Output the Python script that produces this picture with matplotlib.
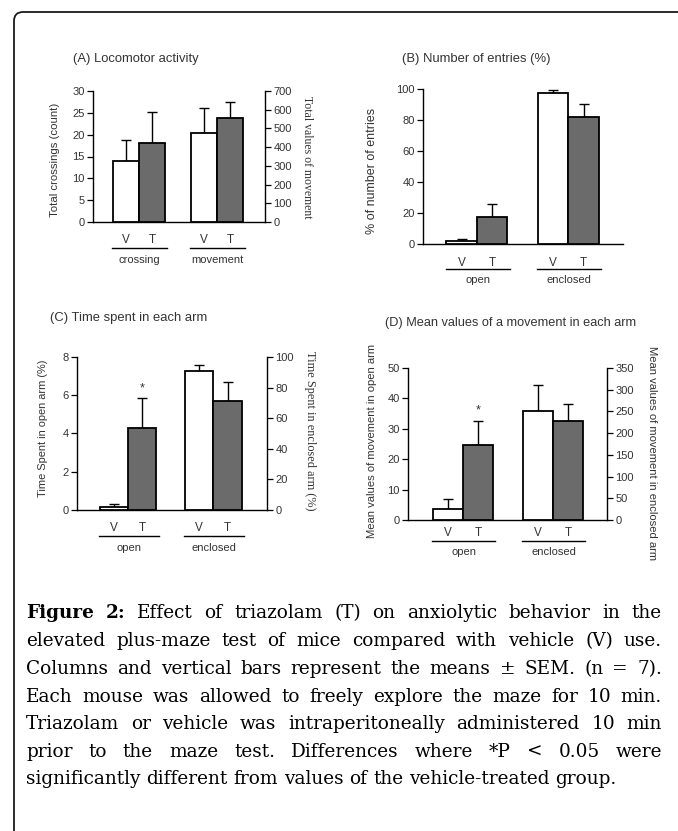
import matplotlib
matplotlib.use('Agg')
import matplotlib.pyplot as plt
from matplotlib.patches import FancyBboxPatch
from matplotlib.transforms import IdentityTransform, blended_transform_factory

# ---------------- data ----------------
treatments = ['V', 'T']

a_groups = ['crossing', 'movement']
a_crossing_mean = [14.0, 18.2]
a_crossing_sem = [4.8, 7.1]
a_movement_mean = [478, 558]
a_movement_sem = [131, 84]
a_left_ticks = [0, 5, 10, 15, 20, 25, 30]
a_right_ticks = [0, 100, 200, 300, 400, 500, 600, 700]

b_groups = ['open', 'enclosed']
b_open_mean = [1.7, 17.3]
b_open_sem = [1.5, 8.8]
b_enclosed_mean = [97.6, 82.0]
b_enclosed_sem = [1.8, 8.1]
b_ticks = [0, 20, 40, 60, 80, 100]

c_groups = ['open', 'enclosed']
c_open_mean = [0.17, 4.3]
c_open_sem = [0.14, 1.54]
c_enclosed_mean = [90.6, 71.5]
c_enclosed_sem = [4.2, 12.0]
c_left_ticks = [0, 2, 4, 6, 8]
c_right_ticks = [0, 20, 40, 60, 80, 100]

d_groups = ['open', 'enclosed']
d_open_mean = [3.6, 24.6]
d_open_sem = [3.3, 8.1]
d_enclosed_mean = [251, 228]
d_enclosed_sem = [59, 38]
d_left_ticks = [0, 10, 20, 30, 40, 50]
d_right_ticks = [0, 50, 100, 150, 200, 250, 300, 350]

caption_lines = [
    "Figure 2: Effect of triazolam (T) on anxiolytic behavior in the",
    "elevated plus-maze test of mice compared with vehicle (V) use.",
    "Columns and vertical bars represent the means \u00b1 SEM. (n = 7).",
    "Each mouse was allowed to freely explore the maze for 10 min.",
    "Triazolam or vehicle was intraperitoneally administered 10 min",
    "prior to the maze test. Differences where *P < 0.05 were",
    "significantly different from values of the vehicle-treated group.",
]

# ---------------- style ----------------
W, H = 678, 831
fig = plt.figure(figsize=(W / 100, H / 100), dpi=100)
SANS = ['Liberation Sans', 'DejaVu Sans']
SERIF = ['Liberation Serif', 'DejaVu Serif']
CAP_FONT = ['DejaVu Serif']
TXT = '#333333'
GRAY = '#6b6b6b'
BAR_COLORS = ['white', GRAY]
plt.rcParams['font.family'] = SANS
TITLE_SIZE = 9.4


def fx(px):
    return px / W


def fy(py):
    return 1 - py / H


def style_axis(ax, side):
    for s in ['top', 'right', 'left', 'bottom']:
        ax.spines[s].set_visible(False)
    ax.spines[side].set_visible(True)
    ax.spines[side].set_linewidth(1.0)
    ax.tick_params(axis='y', direction='out', length=4, width=0.9,
                   labelsize=8, labelcolor=TXT, pad=2)


def draw_bars(ax, center, means, sems):
    xs = [center - 0.5, center + 0.5]
    ax.bar(xs, means, width=1.0, color=BAR_COLORS, edgecolor='black',
           linewidth=1.3, zorder=3)
    ax.errorbar(xs, means, yerr=[[0, 0], sems], fmt='none', ecolor='black',
                elinewidth=1.0, capsize=3.5, capthick=1.0, zorder=2,
                clip_on=False)
    return xs


def panel(box, xlim, ylim_l, ticks_l, m1, s1, m2, s2, groups,
          ylim_r=None, ticks_r=None, tick_pad=8.6, line_off=26, lab_off=38,
          star=False):
    left, top, right, bottom = box
    ax = fig.add_axes([fx(left), fy(bottom), fx(right) - fx(left), (bottom - top) / H])
    ax.set_facecolor('none')
    ax.set_xlim(*xlim)
    ax.set_ylim(*ylim_l)
    ax.set_yticks(ticks_l)
    style_axis(ax, 'left')
    ax.spines['bottom'].set_visible(True)
    ax.spines['bottom'].set_linewidth(1.0)
    xs1 = draw_bars(ax, 0, m1, s1)
    if ylim_r is not None:
        ax2 = ax.twinx()
        ax2.set_ylim(*ylim_r)
        ax2.set_yticks(ticks_r)
        style_axis(ax2, 'right')
        xs2 = draw_bars(ax2, 3, m2, s2)
    else:
        xs2 = draw_bars(ax, 3, m2, s2)
    ax.set_xticks(xs1 + xs2)
    ax.set_xticklabels(treatments * 2)
    ax.tick_params(axis='x', length=0, labelsize=8.5, labelcolor=TXT, pad=tick_pad)
    axh = bottom - top
    trans = blended_transform_factory(ax.transData, ax.transAxes)
    for c, g in zip([0, 3], groups):
        ax.plot([c - 1.02, c + 1.08], [-line_off / axh] * 2, color='black',
                lw=1.0, transform=trans, clip_on=False)
        ax.text(c + 0.03, -lab_off / axh, g, transform=trans, ha='center',
                va='center', fontsize=8, color=TXT)
    if star:
        ax.annotate('*', (xs1[1], m1[1] + s1[1]), xytext=(0, 3),
                    textcoords='offset points', ha='center', va='bottom',
                    fontsize=9, color=TXT)
    return ax


# Panel A
panel((93, 91, 265, 222), (-1.77, 4.85), (0, 30), a_left_ticks,
      a_crossing_mean, a_crossing_sem, a_movement_mean, a_movement_sem, a_groups,
      ylim_r=(0, 700), ticks_r=a_right_ticks, tick_pad=8.6, line_off=26, lab_off=38)
fig.text(fx(73), fy(59), '(A) Locomotor activity', fontsize=TITLE_SIZE, color=TXT,
         ha='left', va='center')
fig.text(fx(55), fy(160), 'Total crossings (count)', fontsize=8.2, color=TXT,
         rotation=90, ha='center', va='center')
fig.text(fx(307), fy(157), 'Total values of movement', fontsize=8.5, color=TXT,
         rotation=-90, ha='center', va='center', family=SERIF)

# Panel B
panel((423, 89, 623, 244), (-1.77, 4.79), (0, 100), b_ticks,
      b_open_mean, b_open_sem, b_enclosed_mean, b_enclosed_sem, b_groups,
      tick_pad=9.4, line_off=25, lab_off=36)
fig.text(fx(402), fy(59), '(B) Number of entries (%)', fontsize=TITLE_SIZE, color=TXT,
         ha='left', va='center')
fig.text(fx(372), fy(171), '% of number of entries', fontsize=9, color=TXT,
         rotation=90, ha='center', va='center')

# Panel C
panel((77, 357, 267, 510), (-1.79, 4.88), (0, 8), c_left_ticks,
      c_open_mean, c_open_sem, c_enclosed_mean, c_enclosed_sem, c_groups,
      ylim_r=(0, 100), ticks_r=c_right_ticks, tick_pad=8.6, line_off=26,
      lab_off=38, star=True)
fig.text(fx(50), fy(318), '(C) Time spent in each arm', fontsize=TITLE_SIZE, color=TXT,
         ha='left', va='center')
fig.text(fx(43), fy(428), 'Time Spent in open arm (%)', fontsize=7.9, color=TXT,
         rotation=90, ha='center', va='center')
fig.text(fx(310), fy(431), 'Time Spent in enclosed arm (%)', fontsize=8.8,
         color=TXT, rotation=-90, ha='center', va='center', family=SERIF)

# Panel D
panel((408, 368, 607, 520), (-1.83, 4.80), (0, 50), d_left_ticks,
      d_open_mean, d_open_sem, d_enclosed_mean, d_enclosed_sem, d_groups,
      ylim_r=(0, 350), ticks_r=d_right_ticks, tick_pad=5, line_off=21,
      lab_off=32, star=True)
fig.text(fx(385), fy(323), '(D) Mean values of a movement in each arm',
         fontsize=9.2, color=TXT, ha='left', va='center')
fig.text(fx(372), fy(441), 'Mean values of movement in open arm', fontsize=8.1,
         color=TXT, rotation=90, ha='center', va='center')
fig.text(fx(652), fy(453), 'Mean values of movement in enclosed arm',
         fontsize=8.1, color=TXT, rotation=-90, ha='center', va='center')

# ---------------- frame ----------------
frame = FancyBboxPatch((14, -40), 720, H - 12 + 40,
                       boxstyle='round,pad=0,rounding_size=9',
                       transform=IdentityTransform(), fill=False,
                       edgecolor='#1a1a1a', linewidth=1.3)
fig.add_artist(frame)

# ---------------- caption (justified) ----------------
renderer = fig.canvas.get_renderer()
CAP_SIZE = 13.35
x_left, x_right = 26, 662
baselines = [618, 646, 674, 702, 729, 757, 784]
for i, line in enumerate(caption_lines):
    words = line.split(' ')
    items = []
    for w in words:
        bold = (i == 0 and w in ('Figure', '2:'))
        t = fig.text(0, 0, w, fontsize=CAP_SIZE, family=CAP_FONT,
                     weight='bold' if bold else 'normal', color='black',
                     transform=IdentityTransform(), ha='left', va='baseline')
        items.append(t)
    widths = [t.get_window_extent(renderer).width for t in items]
    space = fig.text(0, 0, 'a a', fontsize=CAP_SIZE, family=CAP_FONT)
    sw = space.get_window_extent(renderer).width
    aw = fig.text(0, 0, 'aa', fontsize=CAP_SIZE, family=CAP_FONT)
    sw = sw - aw.get_window_extent(renderer).width
    space.remove()
    aw.remove()
    if i < len(caption_lines) - 1:
        gap = (x_right - x_left - sum(widths)) / (len(words) - 1)
    else:
        gap = sw
    x = x_left
    yb = H - baselines[i]
    for t, w in zip(items, widths):
        t.set_position((x, yb))
        x += w + gap

fig.savefig('out.png', dpi=100)
